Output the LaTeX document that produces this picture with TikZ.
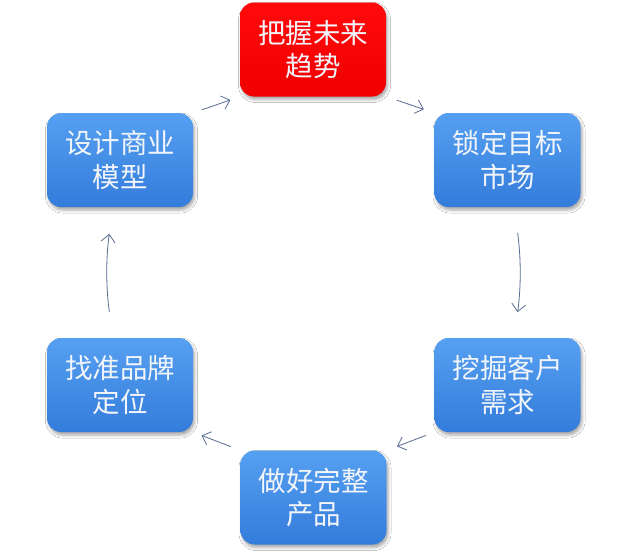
\documentclass[tikz,border=0pt]{standalone}
\usepackage{fontspec}
\newfontfamily\cjk{Noto Sans CJK SC}
\usetikzlibrary{arrows.meta,shadows.blur}
\definecolor{btop}{RGB}{86,160,242}
\definecolor{bbot}{RGB}{52,124,218}
\definecolor{rtop}{RGB}{255,10,10}
\definecolor{rbot}{RGB}{240,0,0}
\definecolor{arrc}{RGB}{88,108,145}
\definecolor{txtc}{RGB}{242,245,250}
\tikzset{
  boxbase/.style={rounded corners=14pt, minimum width=146pt, minimum height=94pt,
    inner sep=0pt, align=center, font=\cjk\fontsize{27.5}{33.5}\selectfont,
    blur shadow={shadow xshift=1.5pt, shadow yshift=-3pt, shadow blur radius=3pt, shadow opacity=35}},
  bluebox/.style={boxbase, top color=btop, bottom color=bbot, text=txtc},
  redbox/.style={boxbase, top color=rtop, bottom color=rbot, text=txtc},
  arr/.style={draw=arrc, line width=0.8pt, -{Straight Barb[length=7.5pt,width=14pt]}}
}
\begin{document}
\begin{tikzpicture}[x=1pt,y=1pt]
\useasboundingbox[fill=white] (0,0) rectangle (628,-552);
\node[redbox]  (top) at (313,-49.5) {把握未来\\趋势};
\node[bluebox] (ru)  at (507.5,-160) {锁定目标\\市场};
\node[bluebox] (rl)  at (507.5,-385) {挖掘客户\\需求};
\node[bluebox] (bot) at (313.5,-497.5) {做好完整\\产品};
\node[bluebox] (ll)  at (120,-385) {找准品牌\\定位};
\node[bluebox] (lu)  at (120,-160) {设计商业\\模型};
\draw[arr, shorten <=11pt, shorten >=11pt] (top.south east) -- (ru.north west);
\draw[arr, shorten <=26pt, shorten >=26pt] ([xshift=6.5pt]ru.south) to[bend left=8] ([xshift=6.5pt]rl.north);
\draw[arr, shorten <=9pt, shorten >=11pt] (rl.south west) -- (bot.north east);
\draw[arr, shorten <=10pt, shorten >=9pt] (bot.north west) -- (ll.south east);
\draw[arr, shorten <=26pt, shorten >=27pt] ([xshift=-7pt]ll.north) to[bend left=8] ([xshift=-7pt]lu.south);
\draw[arr, shorten <=9pt, shorten >=10pt] (lu.north east) -- (top.south west);
\end{tikzpicture}
\end{document}
